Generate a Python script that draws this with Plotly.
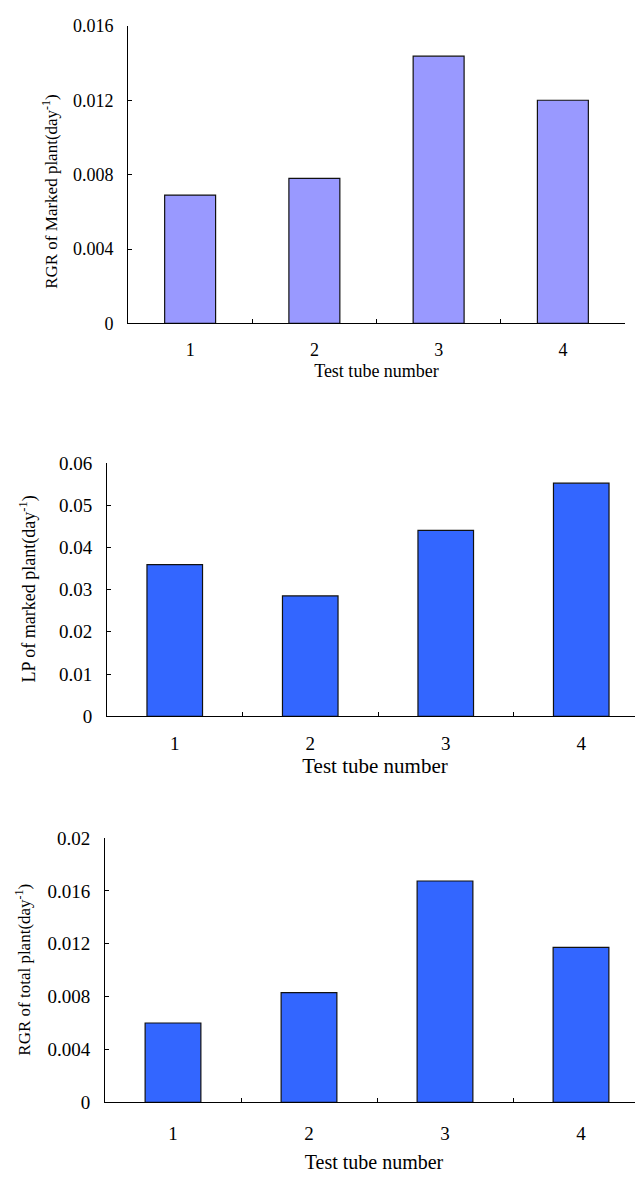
import plotly.graph_objects as go

# The page body adds an 8px margin, so the figure is drawn 8px smaller
# and every pixel position below is shifted by -8 to land where the reference is.
OFF = 8
W, H = 643 - OFF, 1183 - OFF

categories = ["1", "2", "3", "4"]
rgr_marked = [0.0069, 0.0078, 0.01437, 0.0120]
lp_marked = [0.0359, 0.0285, 0.0440, 0.0552]
rgr_total = [0.0060, 0.0083, 0.01675, 0.01172]

y1_ticks = [0, 0.004, 0.008, 0.012, 0.016]
y1_text = ["0", "0.004", "0.008", "0.012", "0.016"]
y2_ticks = [0, 0.01, 0.02, 0.03, 0.04, 0.05, 0.06]
y2_text = ["0", "0.01", "0.02", "0.03", "0.04", "0.05", "0.06"]
y3_ticks = [0, 0.004, 0.008, 0.012, 0.016, 0.02]
y3_text = ["0", "0.004", "0.008", "0.012", "0.016", "0.02"]

x_title = "Test tube number"
y1_title = "RGR of Marked plant(day<sup>-1</sup>)"
y2_title = "LP of marked plant(day<sup>-1</sup>)"
y3_title = "RGR of total plant(day<sup>-1</sup>)"

FONT = "Liberation Serif, Times New Roman, serif"


def px(x):
    return min(1.0, (x - OFF) / W)


def py(y):
    return 1 - (y - OFF) / H


fig = go.Figure()
fig.add_trace(go.Bar(x=categories, y=rgr_marked, xaxis="x", yaxis="y",
                     marker=dict(color="#9999FF", line=dict(color="#111111", width=1.2))))
fig.add_trace(go.Bar(x=categories, y=lp_marked, xaxis="x2", yaxis="y2",
                     marker=dict(color="#3366FF", line=dict(color="#111111", width=1.2))))
fig.add_trace(go.Bar(x=categories, y=rgr_total, xaxis="x3", yaxis="y3",
                     marker=dict(color="#3366FF", line=dict(color="#111111", width=1.2))))


def xaxis(domain, anchor, rng, fsize, tfsize, standoff, tstand):
    return dict(domain=domain, anchor=anchor, type="category", range=rng,
                showline=True, linecolor="black", linewidth=1, mirror=False,
                ticks="inside", ticklen=4, tickcolor="black", tickson="boundaries",
                showgrid=False, zeroline=False,
                tickfont=dict(family=FONT, size=fsize, color="black"),
                ticklabelstandoff=standoff,
                title=dict(text=x_title, font=dict(family=FONT, size=tfsize, color="black"),
                           standoff=tstand))


def yaxis(domain, anchor, rng, tv, tt, fsize):
    return dict(domain=domain, anchor=anchor, range=rng, tickvals=tv, ticktext=tt,
                showline=True, linecolor="black", linewidth=1,
                ticks="inside", ticklen=4, tickcolor="black",
                showgrid=False, zeroline=False,
                tickfont=dict(family=FONT, size=fsize, color="black"),
                ticklabelstandoff=10)


fig.update_layout(
    width=W, height=H,
    margin=dict(l=0, r=0, t=0, b=0),
    paper_bgcolor="white", plot_bgcolor="white",
    showlegend=False,
    bargap=0.59,
    xaxis=xaxis([px(128), px(625)], "y", [-0.5, 3.5], 18, 18, 10, 5),
    yaxis=yaxis([py(319), py(16)], "x", [0, 0.016], y1_ticks, y1_text, 18),
    xaxis2=xaxis([px(107), 1], "y2", [-0.5, -0.5 + (643 - 107) / 135.5], 19, 21, 10, 5),
    yaxis2=yaxis([py(719), py(461)], "x2", [0, 0.06], y2_ticks, y2_text, 19),
    xaxis3=xaxis([px(105), 1], "y3", [-0.5, -0.5 + (643 - 105) / 136.0], 19, 20, 14, 11),
    yaxis3=yaxis([py(1112), py(843)], "x3", [0, 0.02], y3_ticks, y3_text, 19),
    annotations=[
        dict(text=y1_title, x=px(50), y=py(185), xref="paper", yref="paper",
             textangle=-90, showarrow=False, xanchor="center", yanchor="middle",
             font=dict(family=FONT, size=17, color="black")),
        dict(text=y2_title, x=px(28), y=py(590), xref="paper", yref="paper",
             textangle=-90, showarrow=False, xanchor="center", yanchor="middle",
             font=dict(family=FONT, size=18, color="black")),
        dict(text=y3_title, x=px(23), y=py(977), xref="paper", yref="paper",
             textangle=-90, showarrow=False, xanchor="center", yanchor="middle",
             font=dict(family=FONT, size=17, color="black")),
    ],
)

fig.write_html("out.html")
